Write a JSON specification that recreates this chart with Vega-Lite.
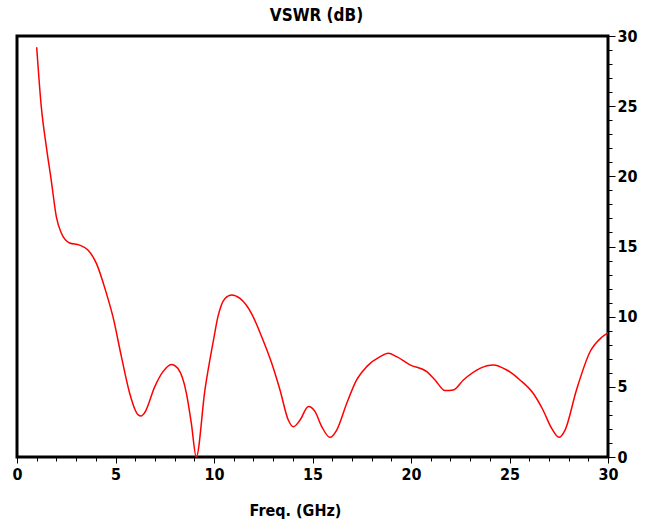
{
  "$schema": "https://vega.github.io/schema/vega-lite/v6.json",
  "width": 591,
  "height": 421,
  "autosize": {"type": "none"},
  "padding": {"left": 17, "top": 36, "right": 43, "bottom": 66},
  "background": "white",
  "config": {
    "view": {"stroke": "black", "strokeWidth": 3},
    "font": "Liberation Sans Narrow, DejaVu Sans Condensed, sans-serif"
  },
  "title": {
    "text": "VSWR (dB)",
    "font": "Liberation Sans Narrow, DejaVu Sans Condensed, sans-serif",
    "fontSize": 17,
    "fontWeight": "bold",
    "color": "black",
    "anchor": "middle",
    "offset": 3,
    "dx": 4
  },
  "data": {
    "values": [
      {"f": 1.0, "v": 29.2},
      {"f": 1.23, "v": 25.0},
      {"f": 1.49, "v": 22.1},
      {"f": 1.74, "v": 19.7},
      {"f": 2.0, "v": 17.1},
      {"f": 2.25, "v": 15.96},
      {"f": 2.67, "v": 15.25},
      {"f": 3.18, "v": 15.1},
      {"f": 3.6, "v": 14.75},
      {"f": 4.03, "v": 13.8},
      {"f": 4.53, "v": 11.7},
      {"f": 4.87, "v": 10.0},
      {"f": 5.3, "v": 7.15},
      {"f": 5.72, "v": 4.54},
      {"f": 6.0, "v": 3.35},
      {"f": 6.15, "v": 3.0},
      {"f": 6.3, "v": 2.92},
      {"f": 6.48, "v": 3.15},
      {"f": 6.99, "v": 5.0},
      {"f": 7.41, "v": 6.08},
      {"f": 7.83, "v": 6.6},
      {"f": 8.17, "v": 6.3},
      {"f": 8.6, "v": 4.54},
      {"f": 8.85, "v": 2.4},
      {"f": 9.1, "v": 0.0},
      {"f": 9.54, "v": 4.78},
      {"f": 9.97, "v": 8.3},
      {"f": 10.2, "v": 10.0},
      {"f": 10.56, "v": 11.3},
      {"f": 10.9, "v": 11.55},
      {"f": 11.32, "v": 11.3},
      {"f": 11.9, "v": 10.24},
      {"f": 12.42, "v": 8.57},
      {"f": 12.93, "v": 6.68},
      {"f": 13.35, "v": 4.78},
      {"f": 13.77, "v": 2.64},
      {"f": 14.03, "v": 2.16},
      {"f": 14.37, "v": 2.64},
      {"f": 14.79, "v": 3.59},
      {"f": 15.13, "v": 3.23},
      {"f": 15.47, "v": 2.16},
      {"f": 15.89, "v": 1.4},
      {"f": 16.23, "v": 1.92},
      {"f": 16.74, "v": 3.83},
      {"f": 17.24, "v": 5.49},
      {"f": 17.75, "v": 6.44},
      {"f": 18.43, "v": 7.15},
      {"f": 18.85, "v": 7.39},
      {"f": 19.27, "v": 7.15},
      {"f": 19.95, "v": 6.56},
      {"f": 20.8, "v": 6.08},
      {"f": 21.22, "v": 5.49},
      {"f": 21.73, "v": 4.73},
      {"f": 22.15, "v": 4.78},
      {"f": 22.66, "v": 5.49},
      {"f": 23.5, "v": 6.32},
      {"f": 24.18, "v": 6.56},
      {"f": 24.86, "v": 6.2},
      {"f": 25.53, "v": 5.49},
      {"f": 26.2, "v": 4.54},
      {"f": 26.7, "v": 3.35},
      {"f": 27.14, "v": 2.04},
      {"f": 27.51, "v": 1.4},
      {"f": 27.82, "v": 1.92},
      {"f": 28.4, "v": 4.78},
      {"f": 29.09, "v": 7.5},
      {"f": 29.68, "v": 8.53},
      {"f": 30.0, "v": 8.85}
    ]
  },
  "mark": {"type": "line", "color": "#ff0000", "strokeWidth": 1.5, "interpolate": "monotone", "clip": true},
  "encoding": {
    "x": {
      "field": "f",
      "type": "quantitative",
      "scale": {"domain": [0, 30], "nice": false, "zero": false},
      "axis": {
        "title": "Freq. (GHz)",
        "titleFont": "Liberation Sans Narrow, DejaVu Sans Condensed, sans-serif",
        "titleFontSize": 16,
        "titleFontWeight": "bold",
        "titleColor": "black",
        "titleX": 278,
        "titleY": 58,
        "titleBaseline": "alphabetic",
        "titleAnchor": null,
        "values": [0,1,2,3,4,5,6,7,8,9,10,11,12,13,14,15,16,17,18,19,20,21,22,23,24,25,26,27,28,29,30],
        "labelExpr": "datum.value % 5 === 0 ? datum.label : ''",
        "labelFont": "Liberation Sans Narrow, DejaVu Sans Condensed, sans-serif",
        "labelFontSize": 16,
        "labelFontWeight": "bold",
        "labelColor": "black",
        "labelPadding": 3,
        "labelFlush": false,
        "labelOverlap": false,
        "domain": false,
        "grid": false,
        "ticks": true,
        "tickColor": "black",
        "tickWidth": 1,
        "tickSize": {"condition": {"test": "datum.value % 5 === 0", "value": 6}, "value": 4}
      }
    },
    "y": {
      "field": "v",
      "type": "quantitative",
      "scale": {"domain": [0, 30], "nice": false, "zero": false},
      "axis": {
        "orient": "right",
        "title": null,
        "values": [0,1,2,3,4,5,6,7,8,9,10,11,12,13,14,15,16,17,18,19,20,21,22,23,24,25,26,27,28,29,30],
        "labelExpr": "datum.value % 5 === 0 ? datum.label : ''",
        "labelFont": "Liberation Sans Narrow, DejaVu Sans Condensed, sans-serif",
        "labelFontSize": 16,
        "labelFontWeight": "bold",
        "labelColor": "black",
        "labelPadding": 2,
        "labelFlush": false,
        "labelOverlap": false,
        "domain": false,
        "grid": false,
        "ticks": true,
        "tickColor": "black",
        "tickWidth": 1,
        "tickSize": {"condition": {"test": "datum.value % 5 === 0", "value": 7}, "value": 4}
      }
    }
  }
}
